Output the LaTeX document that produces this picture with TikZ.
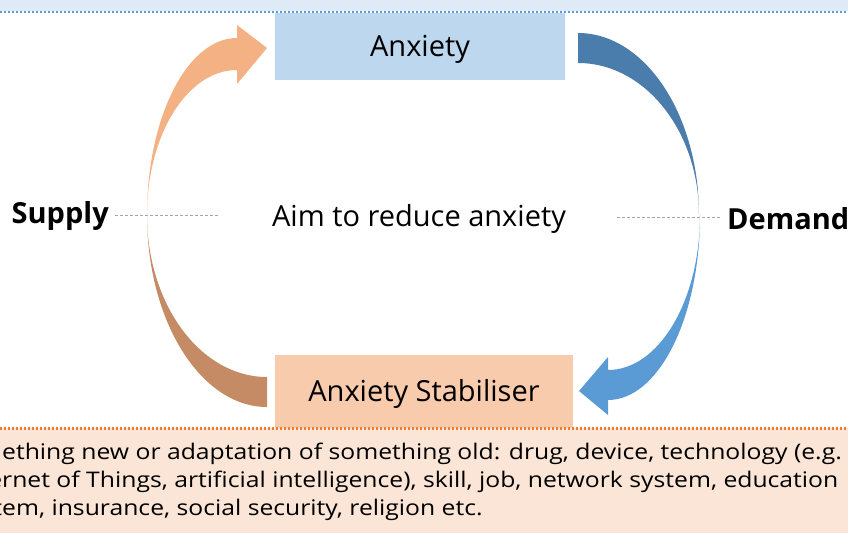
\documentclass[tikz,border=0pt]{standalone}
\usepackage{fontspec}
\setmainfont{Open Sans}
\newfontfamily\bandfont[FakeStretch=1.15]{Open Sans}
\definecolor{topband}{HTML}{DEEBF7}
\definecolor{topline}{HTML}{5B9BD5}
\definecolor{botband}{HTML}{FBE5D6}
\definecolor{botline}{HTML}{ED7D31}
\definecolor{anxfill}{HTML}{BDD7EE}
\definecolor{stabfill}{HTML}{F8CBAD}
\definecolor{supplyup}{HTML}{F4B183}
\definecolor{supplydown}{HTML}{C48B64}
\definecolor{demandtop}{HTML}{4A7DAB}
\definecolor{demandlow}{HTML}{5B9BD5}
\definecolor{guide}{HTML}{A6A6A6}
\begin{document}
\begin{tikzpicture}[x=1pt,y=-1pt,
  boxlabel/.style={font=\fontsize{29}{34}\selectfont, text=black, text height=26pt, text depth=7pt},
  sidelabel/.style={font=\bfseries\fontsize{29}{34}\selectfont, text=black, inner sep=0pt},
  guideline/.style={guide, line width=1pt, dash pattern=on 3pt off 2pt},
  bandtext/.style={font=\bandfont\fontsize{21.5}{26}\selectfont, anchor=base west, inner sep=0pt},
  bandrule/.style={line width=2.4pt, dash pattern=on 2.2pt off 1.8pt}]
\useasboundingbox (0,0) rectangle (848,533);
\begin{scope}
\clip (0,0) rectangle (848,533);

% header and footer bands
\fill[topband] (0,0) rectangle (848,11);
\draw[bandrule, topline] (0,12) -- (848,12);
\fill[botband] (0,428) rectangle (848,533);

% the two boxes
\node[fill=anxfill, minimum width=290pt, minimum height=67pt, inner sep=0pt,
      boxlabel] (anx) at (420,46.5) {Anxiety};
\node[fill=stabfill, minimum width=298pt, minimum height=73pt, inner sep=0pt,
      boxlabel] (stab) at (424,391.5) {Anxiety Stabiliser};
\draw[bandrule, botline] (0,428.5) -- (848,428.5);

% supply side: rising arrow into the anxiety box
\fill[supplyup] (147,215) arc[start angle=180, end angle=270, x radius=90, y radius=177]
  -- (237,25) -- (267,48) -- (237,84) -- (237,70)
  arc[start angle=270, end angle=180, x radius=90, y radius=145] -- cycle;
% supply side: lower sweep out of the stabiliser box
\fill[supplydown] (147,215) arc[start angle=180, end angle=90, x radius=120, y radius=192]
  -- (267,377)
  arc[start angle=90, end angle=180, x radius=120, y radius=162] -- cycle;

% demand side: sweep out of the anxiety box
\fill[demandtop] (578,33) arc[start angle=270, end angle=360, x radius=121, y radius=182]
  arc[start angle=0, end angle=-90, x radius=121, y radius=152] -- cycle;
% demand side: descending arrow into the stabiliser box
\fill[demandlow] (700,215) arc[start angle=0, end angle=90, x radius=92, y radius=185]
  -- (608,415) -- (579,391) -- (608,357) -- (608,370)
  arc[start angle=90, end angle=0, x radius=92, y radius=155] -- cycle;

% centre caption and side labels
\node[boxlabel] (aim) at (419,217) {Aim to reduce anxiety};
\node[sidelabel, anchor=east] (supply) at (109,216) {Supply};
\node[sidelabel, anchor=west] (demand) at (727,219) {Demand};
\coordinate (supplyend) at (218,215);
\coordinate (demandstart) at (617,217);
\draw[guideline] ([xshift=6pt]supply.east |- supplyend) -- (supplyend);
\draw[guideline] (demandstart) -- ([xshift=-5pt]demand.west |- demandstart);

% footer text
\node[bandtext] (band1) at (2,459) {\llap{Som}ething new or adaptation of something old: drug, device, technology (e.g.};
\node[bandtext] (band2) at (2,487) {\llap{Inte}rnet of Things, artificial intelligence), skill, job, network system, education};
\node[bandtext] (band3) at (2,515) {\llap{syst}em, insurance, social security, religion etc.};
\end{scope}
\end{tikzpicture}
\end{document}
